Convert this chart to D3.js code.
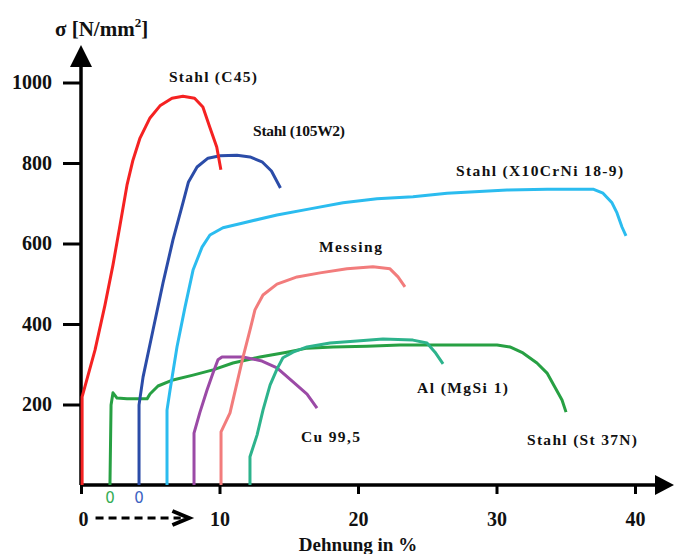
<!DOCTYPE html>
<html>
<head>
<meta charset="utf-8">
<script src="https://cdn.jsdelivr.net/npm/d3@7/dist/d3.min.js"></script>
<style>
html,body{margin:0;padding:0;background:#fff;}
svg{display:block;}
</style>
</head>
<body>
<svg id="chart" width="674" height="554"></svg>
<script>
// ---- data (strain in %, stress in N/mm²) ----
const xTicks = [0, 10, 20, 30, 40];
const yTicks = [200, 400, 600, 800, 1000];
const yTitle = "σ [N/mm";
const xTitle = "Dehnung in %";

const seriesNames = ["Stahl (St 37N)", "Cu 99,5", "Messing", "Al (MgSi 1)", "Stahl (X10CrNi 18-9)", "Stahl (105W2)", "Stahl (C45)"];
const seriesColors = ["#27a043", "#9b4aa6", "#f27c7c", "#2db38c", "#2bbcef", "#2b4ca8", "#f52222"];

const st37 = [[2.09,0],[2.17,199],[2.31,229],[2.6,216],[3.32,214],[4.77,214],[4.98,226],[5.56,246],[6.64,261],[8.09,273],[9.53,286],[10.97,303],[12.92,318],[14.87,330],[16.32,340],[18.2,343],[20.65,345],[23.03,348],[30.04,348],[30.97,343],[31.91,328],[32.92,303],[33.65,278],[34.22,243],[34.73,211],[35.02,181]];
const cu = [[8.16,0],[8.16,129],[8.59,181],[9.1,236],[9.53,278],[9.89,311],[10.18,318],[11.7,318],[13.07,308],[14.15,291],[15.31,256],[16.32,226],[17.04,191]];
const messing = [[10.11,0],[10.11,132],[10.76,179],[11.26,253],[11.7,318],[12.2,385],[12.56,435],[13.14,472],[14.15,499],[15.6,517],[17.26,527],[19.2,537],[21.08,542],[22.31,537],[22.89,517],[23.39,492]];
const al = [[12.2,0],[12.2,70],[12.71,124],[13.14,186],[13.65,248],[14.15,288],[14.58,316],[15.31,330],[16.32,343],[17.98,353],[19.93,358],[21.8,363],[23.97,360],[24.98,353],[25.56,330],[26.14,301]];
const x10 = [[6.21,0],[6.21,186],[6.43,236],[6.93,343],[7.51,442],[8.09,534],[8.74,591],[9.31,621],[10.25,639],[11.7,651],[14.15,671],[16.53,686],[18.92,701],[21.37,711],[23.97,716],[26.43,725],[30.76,733],[33.65,735],[36.97,735],[37.69,725],[38.34,701],[38.7,676],[39.06,641],[39.35,619]];
const w105 = [[4.19,0],[4.19,199],[4.48,268],[5.2,385],[5.92,502],[6.64,609],[7.36,701],[7.75,752],[8.38,790],[9.17,812],[10.04,818],[11.26,819],[12.2,815],[13.07,803],[13.75,780],[14.4,738]];
const c45 = [[0.08,0],[0.08,219],[1.01,335],[1.73,447],[2.31,547],[2.82,646],[3.32,745],[3.75,807],[4.26,862],[4.98,912],[5.7,942],[6.57,961],[7.36,966],[8.2,961],[8.8,939],[9.3,889],[9.8,840],[10.1,783]];
const seriesValues = [st37, cu, messing, al, x10, w105, c45];

// label anchors (data units) and rendered widths
const labelAnchors = [[32.2, 99], [15.88, 107], [17.18, 579], [24.26, 229], [27.08, 768], [12.42, 867], [6.35, 1001]];
const labelWidths = [110, 59, 63, 91, 167, 92, 88];

// ---- chart ----
const svg = d3.select("#chart");
const x = d3.scaleLinear().domain([0, 40]).range([81, 635]);
const y = d3.scaleLinear().domain([0, 1000]).range([485, 82.5]);
const serif = "'Liberation Serif','Times New Roman',serif";

// y axis
const yAxis = svg.append("g").attr("transform", `translate(${x(0)},0)`)
  .call(d3.axisLeft(y).tickValues(yTicks).tickSize(18).tickPadding(11).tickFormat(d3.format("d")));
yAxis.select(".domain").remove();
yAxis.selectAll("line").attr("stroke", "#000").attr("stroke-width", 3);
yAxis.selectAll("text").attr("font-family", serif).attr("font-size", 20).attr("font-weight", "bold").attr("fill", "#111");

// x axis
const xAxis = svg.append("g").attr("transform", `translate(0,${y(0)})`)
  .call(d3.axisBottom(x).tickValues(xTicks).tickSize(9).tickPadding(18).tickFormat(d3.format("d")));
xAxis.select(".domain").remove();
xAxis.selectAll("line").attr("stroke", "#000").attr("stroke-width", 3);
xAxis.selectAll("text").attr("font-family", serif).attr("font-size", 20).attr("font-weight", "bold").attr("fill", "#111");
xAxis.selectAll(".tick").filter(d => d === 0).select("text").attr("dx", 2);

// axis lines with arrows
svg.append("line").attr("x1", x(0)).attr("y1", y(0)).attr("x2", x(0)).attr("y2", 66)
  .attr("stroke", "#000").attr("stroke-width", 3.5);
svg.append("path").attr("d", `M${x(0)-11},67 L${x(0)+11},67 L${x(0)},45 Z`).attr("fill", "#000");
svg.append("line").attr("x1", x(0)-1).attr("y1", y(0)).attr("x2", 657).attr("y2", y(0))
  .attr("stroke", "#000").attr("stroke-width", 3.5);
svg.append("path").attr("d", `M655,${y(0)-10} L655,${y(0)+10} L674,${y(0)} Z`).attr("fill", "#000");

// titles
const yt = svg.append("text").attr("x", 55).attr("y", 36).attr("font-family", serif)
  .attr("font-size", 21).attr("font-weight", "bold").attr("fill", "#111");
yt.append("tspan").text(yTitle);
yt.append("tspan").attr("font-size", 13).attr("dy", -9).text("2");
yt.append("tspan").attr("dy", 9).text("]");

svg.append("text").attr("x", x(20)).attr("y", 551).attr("text-anchor", "middle")
  .attr("font-family", serif).attr("font-size", 19).attr("font-weight", "bold").attr("fill", "#111")
  .text(xTitle);

// dashed arrow from 0 to 10
svg.append("line").attr("x1", x(1.05)).attr("y1", 518).attr("x2", x(7.2)).attr("y2", 518)
  .attr("stroke", "#000").attr("stroke-width", 3).attr("stroke-dasharray", "8,5");
svg.append("path").attr("d", `M${x(6.6)},511 L${x(7.8)},518 L${x(6.6)},525`)
  .attr("fill", "none").attr("stroke", "#000").attr("stroke-width", 4).attr("stroke-linejoin", "miter");

// curves
const line = d3.line().x(d => x(d[0])).y(d => y(d[1])).curve(d3.curveLinear);
svg.append("g").selectAll("path").data(seriesValues).join("path")
  .attr("d", line).attr("fill", "none")
  .attr("stroke", (d, i) => seriesColors[i]).attr("stroke-width", 3)
  .attr("stroke-linejoin", "round").attr("stroke-linecap", "butt");

// curve labels
svg.append("g").selectAll("text").data(seriesNames).join("text")
  .attr("x", (d, i) => x(labelAnchors[i][0])).attr("y", (d, i) => y(labelAnchors[i][1]))
  .attr("font-family", serif).attr("font-size", 15.5).attr("font-weight", "bold").attr("fill", "#111")
  .attr("textLength", (d, i) => labelWidths[i]).attr("lengthAdjust", "spacing")
  .text(d => d);

// zero markers for shifted origins (St 37N and 105W2)
const zeroMarks = [0, 5];
svg.append("g").selectAll("text").data(zeroMarks).join("text")
  .attr("x", i => x(seriesValues[i][0][0])).attr("y", y(0) + 18)
  .attr("text-anchor", "middle").attr("font-family", "'DejaVu Sans',sans-serif").attr("font-size", 15)
  .attr("fill", i => i === 0 ? "#35ad55" : "#3d63c2")
  .text("0");
</script>
</body>
</html>
